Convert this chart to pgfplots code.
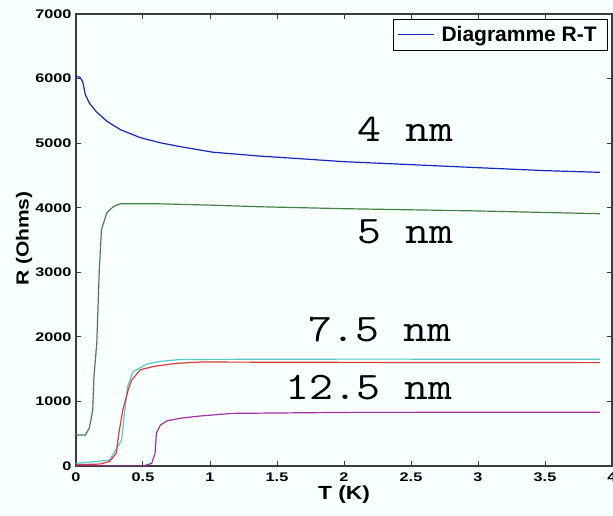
\documentclass[border=0pt]{standalone}
\usepackage{fontspec}
\usepackage{graphicx}
\setmainfont{Liberation Sans}
\newfontfamily\tickfont{Liberation Sans}[FakeStretch=1.3]
\newfontfamily\labfont{Liberation Sans}[FakeStretch=1.2]
\usepackage{pgfplots}
\pgfplotsset{compat=1.18}
\definecolor{bgc}{RGB}{248,255,255}
\definecolor{cblue}{RGB}{20,40,190}
\definecolor{cgreen}{RGB}{70,130,70}
\definecolor{cred}{RGB}{215,60,55}
\definecolor{ccyan}{RGB}{90,200,200}
\definecolor{cmag}{RGB}{160,50,160}
\definecolor{axc}{RGB}{60,60,60}
\begin{document}
\begin{tikzpicture}
\fill[bgc] (-76pt,-50pt) rectangle (537pt,466pt);
\begin{axis}[
  at={(0,0)}, anchor=south west,
  width=536pt, height=452pt, scale only axis,
  xmin=0, xmax=4, ymin=0, ymax=7000,
  xtick={0,0.5,...,4}, ytick={0,1000,...,7000},
  xticklabels={0,0.5,1,1.5,2,2.5,3,3.5,4},
  yticklabels={0,1000,2000,3000,4000,5000,6000,7000},
  tick align=inside, major tick length=5pt,
  tick style={axc, line width=1pt},
  axis line style={axc, line width=1.6pt},
  axis background/.style={fill=bgc},
  /pgf/number format/assume math mode=true,
  ticklabel style={font=\tickfont\bfseries\fontsize{12.5}{13}\selectfont},
  yticklabel style={xshift=-1pt},
  xticklabel style={yshift=-3pt},
  xlabel={T (K)}, ylabel={R (Ohms)},
  xlabel style={font=\labfont\bfseries\fontsize{19}{20}\selectfont, at={(axis description cs:0.5,-0.064)}, anchor=center},
  ylabel style={font=\labfont\bfseries\fontsize{17.5}{18}\selectfont, at={(axis description cs:-0.097,0.503)}, anchor=center, rotate=0},
  legend style={at={(axis description cs:0.993,0.989)}, anchor=north east, draw=black, line width=1pt, fill=bgc,
    font=\bfseries\fontsize{21}{22}\selectfont, inner xsep=4pt, inner ysep=3pt,
    nodes={inner xsep=7pt, inner ysep=4pt}},
  legend cell align=left,
  legend image code/.code={\draw[#1, line width=0.8pt] (0pt,0pt) -- (36pt,0pt);},
  every axis plot/.append style={line width=1.2pt},
]
\addplot[cblue] coordinates {
(0,6035) (0.03,6020) (0.05,5950) (0.07,5750) (0.10,5620) (0.15,5490) (0.23,5340)
(0.33,5210) (0.48,5085) (0.63,5005) (0.78,4945) (1.02,4860) (1.37,4800) (1.7,4755)
(2.0,4713) (2.5,4667) (3.0,4620) (3.5,4574) (3.91,4548)};
\addlegendentry{Diagramme R-T}
\addplot[cgreen, forget plot] coordinates {
(0,480) (0.07,480) (0.10,590) (0.125,870) (0.134,1385) (0.155,1900) (0.174,3040)
(0.19,3660) (0.23,3920) (0.28,4020) (0.33,4060) (0.63,4060) (1.0,4040) (1.37,4015)
(2.0,3985) (3.0,3950) (3.91,3907)};
\addplot[ccyan, forget plot] coordinates {
(0,40) (0.25,90) (0.34,400) (0.365,870) (0.385,1230) (0.425,1460) (0.53,1580)
(0.63,1620) (0.78,1650) (2,1655) (3.91,1654)};
\addplot[cred, forget plot] coordinates {
(0,20) (0.18,30) (0.25,70) (0.30,195) (0.32,510) (0.35,870) (0.39,1180) (0.415,1330)
(0.48,1490) (0.575,1540) (0.75,1590) (0.93,1610) (2,1605) (3.91,1601)};
\addplot[cmag, forget plot] coordinates {
(0,0) (0.5,0) (0.565,40) (0.59,195) (0.60,505) (0.63,635) (0.68,700) (0.78,740)
(0.93,775) (1.17,815) (2,830) (3.91,833)};
\node[anchor=base west, inner sep=0pt] at (axis cs:2.10,5023) {\scalebox{1.19}[1]{\ttfamily\fontsize{39}{40}\selectfont 4 nm}};
\node[anchor=base west, inner sep=0pt] at (axis cs:2.10,3442) {\scalebox{1.19}[1]{\ttfamily\fontsize{39}{40}\selectfont 5 nm}};
\node[anchor=base west, inner sep=0pt] at (axis cs:1.73,1922) {\scalebox{1.19}[1]{\ttfamily\fontsize{39}{40}\selectfont 7.5 nm}};
\node[anchor=base west, inner sep=0pt] at (axis cs:1.56,1023) {\scalebox{1.19}[1]{\ttfamily\fontsize{39}{40}\selectfont 12.5 nm}};
\end{axis}
\pgfresetboundingbox
\path[use as bounding box] (-76pt,-50pt) rectangle (537pt,466pt);
\end{tikzpicture}
\end{document}
